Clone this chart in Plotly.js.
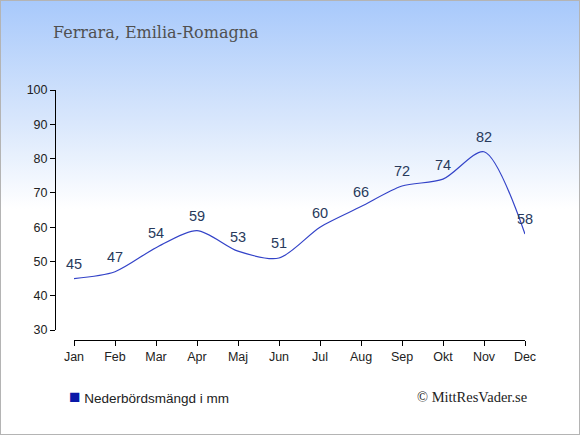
<!DOCTYPE html>
<html><head><meta charset="utf-8">
<script src="https://cdn.plot.ly/plotly-3.0.1.min.js"></script>
<style>
html,body{margin:0;padding:0;}
#wrap{position:relative;width:578px;height:433px;border:1px solid #b4b4b4;
background:linear-gradient(to bottom,#a8c9fb 0%,#d9e7fc 28%,#ffffff 48%,#ffffff 100%);}
#chart{position:absolute;left:-1px;top:-1px;width:580px;height:435px;}
</style></head>
<body><div id="wrap"><div id="chart"></div></div>
<script>
const months = ["Jan","Feb","Mar","Apr","Maj","Jun","Jul","Aug","Sep","Okt","Nov","Dec"];
const precipitation = [45,47,54,59,53,51,60,66,72,74,82,58];
const yTicks = [30,40,50,60,70,80,90,100];
const titleText = "Ferrara, Emilia-Romagna";
const legendText = "Nederbördsmängd i mm";
const creditText = "© MittResVader.se";

const W=580,H=435;
const px=(x)=>x/W, py=(y)=>(H-y)/H;

const trace = {
  x: months.map((m,i)=>i),
  y: precipitation,
  mode: "lines+markers+text",
  type: "scatter",
  line: {shape:"spline", smoothing:0.8, color:"#3343c8", width:1.2},
  marker: {size:8, opacity:0, color:"#3343c8"},
  text: precipitation.map(String),
  textposition: "top center",
  textfont: {family:"Liberation Sans, Arial, sans-serif", size:14.5, color:"#283a5c"},
  cliponaxis: false,
  hoverinfo: "none",
  showlegend: false
};

const layout = {
  width:W, height:H,
  margin:{l:0,r:0,t:0,b:0},
  paper_bgcolor:"rgba(0,0,0,0)",
  plot_bgcolor:"rgba(0,0,0,0)",
  showlegend:false,
  xaxis:{
    domain:[px(74),px(525)],
    range:[0,11],
    anchor:"free", position:py(340),
    tickvals: months.map((m,i)=>i), ticktext: months,
    showline:true, linecolor:"#000", linewidth:1,
    ticks:"outside", ticklen:5, tickcolor:"#000",
    showgrid:false, zeroline:false,
    tickfont:{family:"Liberation Sans, Arial, sans-serif", size:12.5, color:"#222"},
    fixedrange:true
  },
  yaxis:{
    domain:[py(330),py(90)],
    range:[30,100],
    anchor:"free", position:px(55),
    tickvals:yTicks,
    showline:true, linecolor:"#000", linewidth:1,
    ticks:"outside", ticklen:5, tickcolor:"#000",
    showgrid:false, zeroline:false,
    tickfont:{family:"Liberation Sans, Arial, sans-serif", size:12.5, color:"#222"},
    fixedrange:true
  },
  annotations:[
    {xref:"paper",yref:"paper",x:px(51),y:py(32),xanchor:"left",yanchor:"middle",
     text:titleText,showarrow:false,
     font:{family:"DejaVu Serif, Noto Serif, serif",size:16,color:"#505050"}},
    {xref:"paper",yref:"paper",x:px(67),y:py(396),xanchor:"left",yanchor:"middle",
     text:'<span style="color:#0a18a8;font-size:19px">■</span> '+legendText,showarrow:false,
     font:{family:"Liberation Sans, Arial, sans-serif",size:13.5,color:"#222"}},
    {xref:"paper",yref:"paper",x:px(529),y:py(397),xanchor:"right",yanchor:"middle",
     text:creditText,showarrow:false,
     font:{family:"Liberation Serif, Times New Roman, serif",size:14.5,color:"#222"}}
  ]
};

Plotly.newPlot("chart",[trace],layout,{displayModeBar:false,staticPlot:true});
</script></body></html>
